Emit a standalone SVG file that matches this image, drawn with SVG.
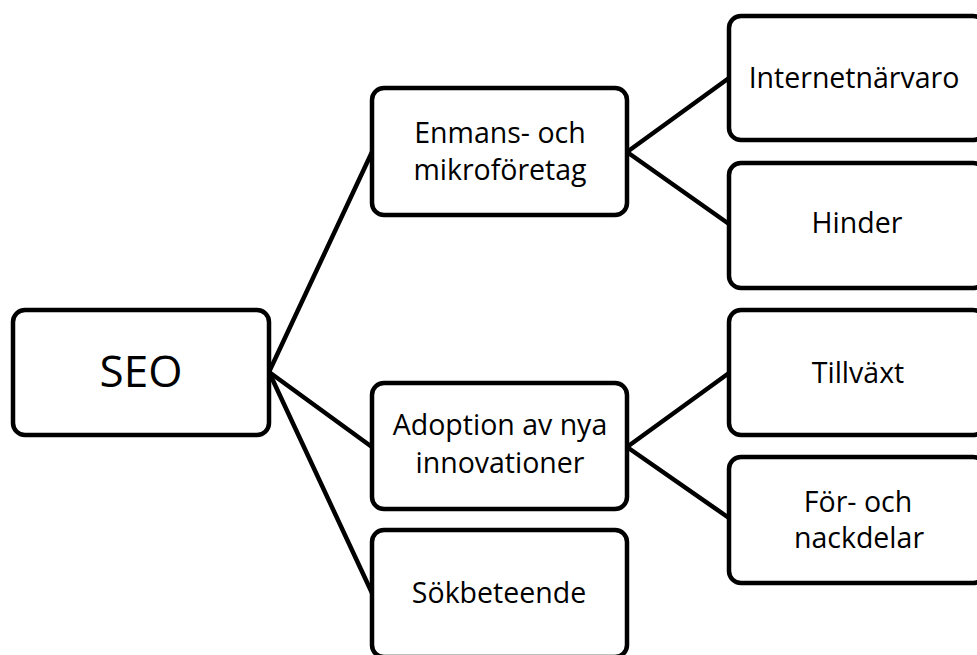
<svg xmlns="http://www.w3.org/2000/svg" width="977" height="655" viewBox="0 0 977 655">
<style>
.box{fill:#fff;stroke:#000;stroke-width:4.5}
.lbl{font-family:"Open Sans","Noto Sans",sans-serif;font-size:28.5px;fill:#000;text-anchor:middle}
.big{font-size:44px}
.conn line{stroke:#000;stroke-width:4.5;stroke-linecap:round}
</style>
<rect width="977" height="655" fill="#fff"/>
<g class="conn" id="connectors">
<line x1="269" y1="372" x2="372" y2="152"/>
<line x1="269" y1="372" x2="372" y2="447"/>
<line x1="269" y1="372" x2="372" y2="593"/>
<line x1="627" y1="152" x2="729" y2="78"/>
<line x1="627" y1="152" x2="729" y2="224"/>
<line x1="627" y1="447" x2="729" y2="373"/>
<line x1="627" y1="447" x2="729" y2="518"/>
</g>
<g id="seo"><rect class="box" x="13" y="310" width="256" height="125" rx="12"/><text class="lbl big" x="141" y="387">SEO</text></g>
<g id="enmans"><rect class="box" x="372" y="88" width="255" height="127" rx="12"/><text class="lbl" x="500" y="143">Enmans- och</text><text class="lbl" x="500" y="180">mikroföretag</text></g>
<g id="adoption"><rect class="box" x="372" y="383" width="255" height="126" rx="12"/><text class="lbl" x="500" y="435">Adoption av nya</text><text class="lbl" x="500" y="473">innovationer</text></g>
<g id="sok"><rect class="box" x="372" y="530" width="255" height="127" rx="12"/><text class="lbl" x="499" y="603">Sökbeteende</text></g>
<g id="internet"><rect class="box" x="729" y="16" width="256" height="124" rx="12"/><text class="lbl" x="854" y="88">Internetnärvaro</text></g>
<g id="hinder"><rect class="box" x="729" y="163" width="256" height="125" rx="12"/><text class="lbl" x="857" y="233">Hinder</text></g>
<g id="tillvaxt"><rect class="box" x="729" y="310" width="256" height="125" rx="12"/><text class="lbl" x="858" y="383">Tillväxt</text></g>
<g id="for"><rect class="box" x="729" y="457" width="256" height="126" rx="12"/><text class="lbl" x="858" y="512">För- och</text><text class="lbl" x="859" y="548">nackdelar</text></g>
</svg>
